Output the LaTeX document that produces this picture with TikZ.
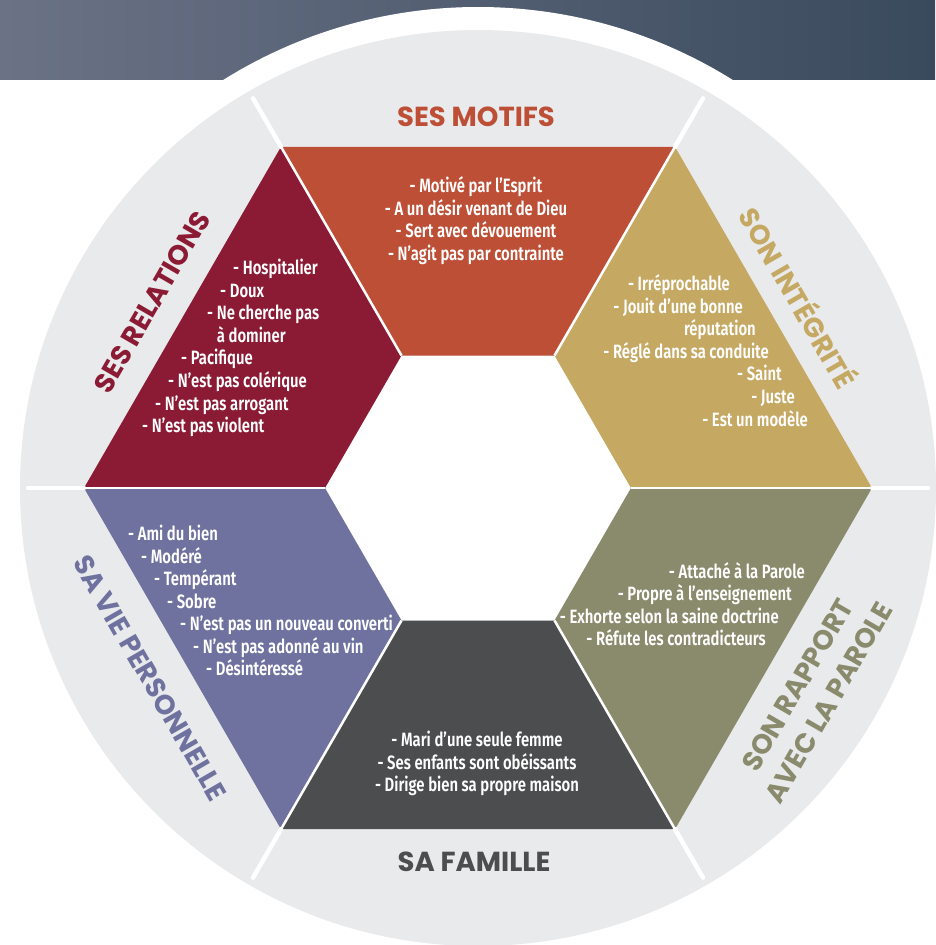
\documentclass[tikz,border=0pt]{standalone}
\usepackage{fontspec}
\newfontfamily\bodyfont[FakeStretch=0.77]{Fira Sans SemiBold}
\newfontfamily\titlefont{Poppins}
\definecolor{cred}{HTML}{BC4F36}
\definecolor{cmaroon}{HTML}{8B1A34}
\definecolor{cgold}{HTML}{C5A862}
\definecolor{colive}{HTML}{8A8B6D}
\definecolor{cdark}{HTML}{4C4D4F}
\definecolor{cpurple}{HTML}{6F729F}
\definecolor{cring}{HTML}{E9EAEC}
\definecolor{bandL}{HTML}{6B7286}
\definecolor{bandR}{HTML}{3A4A5D}
\begin{document}
\begin{tikzpicture}[x=1pt,y=-1pt,
  body/.style={text=white, font=\bodyfont\fontsize{19.3}{22}\selectfont, inner sep=0pt},
  ttl/.style={font=\titlefont\bfseries\fontsize{27.5}{36}\selectfont, inner sep=0pt, align=center},
  sepline/.style={white, line width=4.5pt, line cap=round},
  gapline/.style={white, line width=2.5pt}]
\useasboundingbox (0,0) rectangle (935,945);
\fill[white] (0,0) rectangle (935,945);
\shade[left color=bandL, right color=bandR] (0,0) rectangle (935,79);
\coordinate (C) at (478,488);
\fill[white] (C) circle[radius=481];
\fill[cring] (C) circle[radius=458];
% outer hexagon vertices
\coordinate (OR) at (872,488);
\coordinate (OTR) at (675,146.8);
\coordinate (OTL) at (281,146.8);
\coordinate (OL) at (84,488);
\coordinate (OBL) at (281,829.2);
\coordinate (OBR) at (675,829.2);
% inner hexagon vertices
\coordinate (IR) at (631,488);
\coordinate (ITR) at (554.5,355.5);
\coordinate (ITL) at (401.5,355.5);
\coordinate (IL) at (325,488);
\coordinate (IBL) at (401.5,620.5);
\coordinate (IBR) at (554.5,620.5);
% separator ends
\coordinate (ER) at (928,488);
\coordinate (ETR) at (703,98.3);
\coordinate (ETL) at (253,98.3);
\coordinate (EL) at (28,488);
\coordinate (EBL) at (253,877.7);
\coordinate (EBR) at (703,877.7);
% inner white hexagon
\fill[white] (IR) -- (ITR) -- (ITL) -- (IL) -- (IBL) -- (IBR) -- cycle;
% pieces
\fill[cred] (OTL) -- (OTR) -- (ITR) -- (ITL) -- cycle;
\fill[cmaroon] (OTL) -- (ITL) -- (IL) -- (OL) -- cycle;
\fill[cgold] (OTR) -- (OR) -- (IR) -- (ITR) -- cycle;
\fill[cpurple] (OL) -- (IL) -- (IBL) -- (OBL) -- cycle;
\fill[cdark] (OBL) -- (IBL) -- (IBR) -- (OBR) -- cycle;
\fill[colive] (OBR) -- (IBR) -- (IR) -- (OR) -- cycle;
% separators
\foreach \v in {R,TR,TL,L,BL,BR}{
  \draw[gapline] (I\v) -- (O\v);
  \draw[sepline] (O\v) -- (E\v);
}
% titles
\node[ttl, text=cred] (tmot) at (476,117) {SES MOTIFS};
\node[ttl, text=cmaroon, rotate=60] (trel) at (152,302) {SES RELATIONS};
\node[ttl, text=cgold, rotate=-60] (tint) at (800,297) {SON INTÉGRITÉ};
\node[ttl, text=cpurple, rotate=-60] (tvie) at (150,678) {SA VIE PERSONNELLE};
\node[ttl, text=colive, rotate=60] (tpar) at (813,694) {SON RAPPORT\\AVEC LA PAROLE};
\node[ttl, text=cdark] (tfam) at (474,862) {SA FAMILLE};
% motifs
\node[body, anchor=base] (m1) at (476,192.5) {- Motivé par l’Esprit};
\node[body, anchor=base] (m2) at (476,215.2) {- A un désir venant de Dieu};
\node[body, anchor=base] (m3) at (476,237.9) {- Sert avec dévouement};
\node[body, anchor=base] (m4) at (476,260.6) {- N’agit pas par contrainte};
% relations
\node[body, anchor=base west] (r1) at (233,274.5) {- Hospitalier};
\node[body, anchor=base west] (r2) at (220,297.1) {- Doux};
\node[body, anchor=base west] (r3) at (207,319.7) {- Ne cherche pas};
\node[body, anchor=base west] (r4) at (207,342.3) {\phantom{- }à dominer};
\node[body, anchor=base west] (r5) at (181,364.9) {- Pacifique};
\node[body, anchor=base west] (r6) at (168,387.5) {- N’est pas colérique};
\node[body, anchor=base west] (r7) at (155,410.1) {- N’est pas arrogant};
\node[body, anchor=base west] (r8) at (142,432.7) {- N’est pas violent};
% integrite
\node[body, anchor=base east] (i1) at (730,290.5) {- Irréprochable};
\node[body, anchor=base east] (i2) at (743,313.1) {- Jouit d’une bonne};
\node[body, anchor=base east] (i3) at (756,335.7) {réputation};
\node[body, anchor=base east] (i4) at (769,358.3) {- Réglé dans sa conduite};
\node[body, anchor=base east] (i5) at (782,380.9) {- Saint};
\node[body, anchor=base east] (i6) at (795,403.5) {- Juste};
\node[body, anchor=base east] (i7) at (808,426.1) {- Est un modèle};
% vie personnelle
\node[body, anchor=base west] (p1) at (128,540.5) {- Ami du bien};
\node[body, anchor=base west] (p2) at (141,563) {- Modéré};
\node[body, anchor=base west] (p3) at (154,585.5) {- Tempérant};
\node[body, anchor=base west] (p4) at (167,608) {- Sobre};
\node[body, anchor=base west] (p5) at (180,630.5) {- N’est pas un nouveau converti};
\node[body, anchor=base west] (p6) at (193,653) {- N’est pas adonné au vin};
\node[body, anchor=base west] (p7) at (206,675.5) {- Désintéressé};
% parole
\node[body, anchor=base east] (w1) at (805,578.5) {- Attaché à la Parole};
\node[body, anchor=base east] (w2) at (792,600.9) {- Propre à l’enseignement};
\node[body, anchor=base east] (w3) at (779,623.3) {- Exhorte selon la saine doctrine};
\node[body, anchor=base east] (w4) at (766,645.7) {- Réfute les contradicteurs};
% famille
\node[body, anchor=base] (f1) at (477,746.5) {- Mari d’une seule femme};
\node[body, anchor=base] (f2) at (477,769.5) {- Ses enfants sont obéissants};
\node[body, anchor=base] (f3) at (477,791.5) {- Dirige bien sa propre maison};
\end{tikzpicture}
\end{document}
